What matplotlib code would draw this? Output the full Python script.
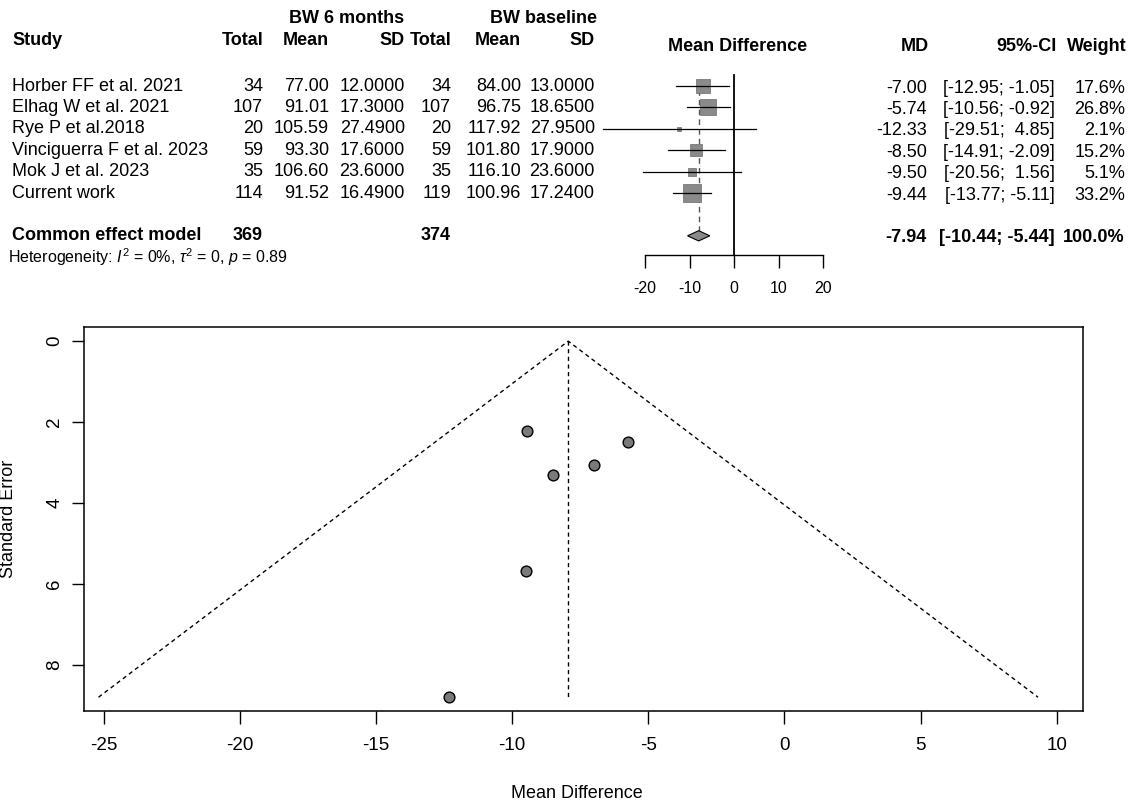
import numpy as np
import matplotlib
matplotlib.use("Agg")
import matplotlib.pyplot as plt

plt.rcParams['font.family'] = ['Liberation Sans', 'DejaVu Sans']
plt.rcParams['axes.unicode_minus'] = False
plt.rcParams['mathtext.fontset'] = 'custom'
plt.rcParams['mathtext.rm'] = 'Liberation Sans'
plt.rcParams['mathtext.it'] = 'Liberation Sans:italic'

# ---------------- data ----------------
studies = ["Horber FF et al. 2021", "Elhag W et al. 2021", "Rye P et al.2018",
           "Vinciguerra F et al. 2023", "Mok J et al. 2023", "Current work"]
n_6m = [34, 107, 20, 59, 35, 114]
mean_6m = [77.00, 91.01, 105.59, 93.30, 106.60, 91.52]
sd_6m = [12.0, 17.3, 27.49, 17.6, 23.6, 16.49]
n_base = [34, 107, 20, 59, 35, 119]
mean_base = [84.00, 96.75, 117.92, 101.80, 116.10, 100.96]
sd_base = [13.0, 18.65, 27.95, 17.9, 23.6, 17.24]
md = [-7.00, -5.74, -12.33, -8.50, -9.50, -9.44]
ci_lo = [-12.95, -10.56, -29.51, -14.91, -20.56, -13.77]
ci_hi = [-1.05, -0.92, 4.85, -2.09, 1.56, -5.11]
weight = [17.6, 26.8, 2.1, 15.2, 5.1, 33.2]
pooled_md, pooled_lo, pooled_hi = -7.94, -10.44, -5.44
total_6m, total_base = 369, 374
het_text = r"Heterogeneity: $\it{I}^2$ = 0%, $\tau^2$ = 0, $\it{p}$ = 0.89"
forest_ticks = [-20, -10, 0, 10, 20]

# funnel plot (standard errors read from the funnel)
se = [3.05, 2.48, 8.80, 3.30, 5.68, 2.22]
se_max = 8.80
funnel_xticks = [-25, -20, -15, -10, -5, 0, 5, 10]
funnel_yticks = [0, 2, 4, 6, 8]

# ---------------- layout ----------------
W, H = 1132, 809
fig = plt.figure(figsize=(W / 100, H / 100), dpi=100)


def px_box(left, top, right, bottom):
    return [left / W, 1 - bottom / H, (right - left) / W, (bottom - top) / H]


tax = fig.add_axes([0, 0, 1, 1])
tax.set_xlim(0, W)
tax.set_ylim(H, 0)
tax.axis('off')

FS = 13
row0, dy = 86, 21.4


def ry(r):
    return row0 + dy * r


# headers
tax.text(347, 18, "BW 6 months", ha='center', va='center', fontsize=FS, fontweight='bold')
tax.text(544, 18, "BW baseline", ha='center', va='center', fontsize=FS, fontweight='bold')
hy = 40
tax.text(12, hy, "Study", ha='left', va='center', fontsize=FS, fontweight='bold')
cols = [263, 329, 405, 451, 521, 595]
for x, lab in zip(cols, ["Total", "Mean", "SD", "Total", "Mean", "SD"]):
    tax.text(x, hy, lab, ha='right', va='center', fontsize=FS, fontweight='bold')
tax.text(738, 46, "Mean Difference", ha='center', va='center', fontsize=FS, fontweight='bold')
tax.text(915, 46, "MD", ha='center', va='center', fontsize=FS, fontweight='bold')
tax.text(1057, 46, "95%-CI", ha='right', va='center', fontsize=FS, fontweight='bold')
tax.text(1127, 46, "Weight", ha='right', va='center', fontsize=FS, fontweight='bold')

for i, s in enumerate(studies):
    y = ry(i)
    tax.text(12, y, s, ha='left', va='center', fontsize=FS)
    vals = [f"{n_6m[i]}", f"{mean_6m[i]:.2f}", f"{sd_6m[i]:.4f}",
            f"{n_base[i]}", f"{mean_base[i]:.2f}", f"{sd_base[i]:.4f}"]
    for x, v in zip(cols, vals):
        tax.text(x, y, v, ha='right', va='center', fontsize=FS)
    tax.text(927, y + 2, f"{md[i]:.2f}", ha='right', va='center', fontsize=FS)
    tax.text(1055, y + 2, f"[{ci_lo[i]:.2f}; {ci_hi[i]:5.2f}]", ha='right', va='center', fontsize=FS)
    tax.text(1125, y + 2, f"{weight[i]:.1f}%", ha='right', va='center', fontsize=FS)

yb = ry(7)
tax.text(12, yb, "Common effect model", ha='left', va='center', fontsize=FS, fontweight='bold')
tax.text(cols[0], yb, f"{total_6m}", ha='right', va='center', fontsize=FS, fontweight='bold')
tax.text(cols[3], yb, f"{total_base}", ha='right', va='center', fontsize=FS, fontweight='bold')
tax.text(927, yb + 2, f"{pooled_md:.2f}", ha='right', va='center', fontsize=FS, fontweight='bold')
tax.text(1055, yb + 2, f"[{pooled_lo:.2f}; {pooled_hi:.2f}]", ha='right', va='center', fontsize=FS, fontweight='bold')
tax.text(1125, yb + 2, f"{sum(weight):.1f}%", ha='right', va='center', fontsize=FS, fontweight='bold')
tax.text(8, 257, het_text, ha='left', va='center', fontsize=11.5)

# ---------------- forest panel ----------------
f_top, f_bot = 60, 255
fax = fig.add_axes(px_box(645, f_top, 823, f_bot))
fax.set_xlim(-20, 20)
fax.set_ylim((f_bot - row0) / dy, (f_top - row0) / dy)
fax.patch.set_alpha(0)
for sp in ['top', 'left', 'right']:
    fax.spines[sp].set_visible(False)
fax.spines['bottom'].set_bounds(-20, 20)
fax.spines['bottom'].set_linewidth(1.0)
fax.set_yticks([])
fax.set_xticks(forest_ticks)
fax.tick_params(axis='x', direction='out', length=9, width=1.0, pad=10, labelsize=11.5)

sq_col = '#8a8a8a'
for i in range(len(md)):
    side_px = 3.25 * np.sqrt(weight[i])
    fax.plot([md[i]], [i], marker='s', markersize=side_px * 0.72, color=sq_col,
             markeredgecolor='#6a6a6a', markeredgewidth=0.5, zorder=3, clip_on=False)
    fax.plot([ci_lo[i], ci_hi[i]], [i, i], color='black', lw=0.9, zorder=4, clip_on=False)

# zero line and pooled line
ybot = (f_bot - row0) / dy
fax.plot([0, 0], [-0.5, ybot], color='black', lw=1.3, zorder=2, clip_on=False)
dh = 0.24
fax.plot([pooled_md, pooled_md], [-0.3, 7 - dh], color='#555555', lw=1.0,
         dashes=(4, 3), zorder=2, clip_on=False)
fax.fill([pooled_lo, pooled_md, pooled_hi, pooled_md], [7, 7 - dh, 7, 7 + dh],
         facecolor=sq_col, edgecolor='black', lw=0.8, zorder=3, clip_on=False)

# ---------------- funnel plot ----------------
ax = fig.add_axes(px_box(84, 327, 1083, 711))
ax.set_xlim(-25.72, 10.96)
ax.set_ylim(9.14, -0.35)
ax.plot([pooled_md - 1.96 * se_max, pooled_md, pooled_md + 1.96 * se_max],
        [se_max, 0, se_max], color='black', lw=1.0, dashes=(3, 2.5))
ax.plot([pooled_md, pooled_md], [0, se_max], color='black', lw=1.0, dashes=(3, 2.5))
ax.scatter(md, se, s=60, facecolor='#7a7a7a', edgecolor='black', linewidths=1.0, zorder=3)
ax.set_xticks(funnel_xticks)
ax.set_yticks(funnel_yticks)
ax.tick_params(axis='x', direction='out', length=9, width=1.0, pad=10, labelsize=13.5)
ax.tick_params(axis='y', direction='out', length=9, width=1.0, pad=6, labelsize=13.5)
for lab in ax.get_yticklabels():
    lab.set_rotation(90)
    lab.set_va('center')
for sp in ax.spines.values():
    sp.set_linewidth(1.1)
ax.set_xlabel("Mean Difference", fontsize=13)
ax.xaxis.set_label_coords((577 - 84) / 999, -(793 - 711) / 384)
ax.xaxis.label.set_va('center')
ax.set_ylabel("Standard Error", fontsize=13)
ax.yaxis.set_label_coords((9 - 84) / 999, 0.5)
ax.yaxis.label.set_va('center')

fig.savefig("out.png", dpi=100)
